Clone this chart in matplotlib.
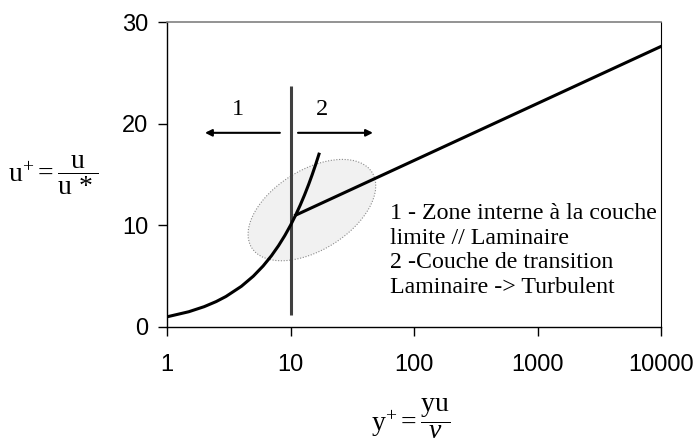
import matplotlib
matplotlib.use("Agg")
import matplotlib.pyplot as plt
import matplotlib.transforms as mtransforms
from matplotlib.patches import Ellipse

# ---- data ----
x_ticks = [1, 10, 100, 1000, 10000]
x_tick_labels = ["1", "10", "100", "1000", "10000"]
y_ticks = [0, 10, 20, 30]

# viscous sublayer  u+ = y+
lam_y = [1, 1.5, 2, 2.5, 3, 4, 5, 6, 7, 8, 9, 10, 11, 12, 13, 14, 15, 16, 17]
lam_u = [1, 1.5, 2, 2.5, 3, 4, 5, 6, 7, 8, 9, 10, 11, 12, 13, 14, 15, 16, 17]

# log law segment
log_y = [11, 10000]
log_u = [11, 27.6]

# separator
sep_x = [10, 10]
sep_u = [1.2, 23.7]

arrow_left = (8.2, 2.03, 19.1)    # x_start, x_end, y
arrow_right = (11.5, 46.5, 19.1)
zone_labels = ["1", "2"]
zone_label_x = [3.76, 18.0]
zone_label_y = 21.4

ellipse_center = (14.9, 11.5)

legend_text = ("1 - Zone interne à la couche\n"
               "limite // Laminaire\n"
               "2 -Couche de transition\n"
               "Laminaire -> Turbulent")

plt.rcParams['mathtext.fontset'] = 'custom'
plt.rcParams['mathtext.rm'] = 'Liberation Serif'
plt.rcParams['mathtext.it'] = 'Liberation Serif:italic'

fig = plt.figure(figsize=(6.97, 4.42), dpi=100)
ax = fig.add_axes([0.2396, 0.2602, 0.9484 - 0.2396, 0.9502 - 0.2602])

ax.set_xscale('log')
ax.set_xlim(1, 10000)
ax.set_ylim(0, 30)

# ellipse (pixel-sized, centred on a data point)
trans = fig.dpi_scale_trans + mtransforms.ScaledTranslation(
    ellipse_center[0], ellipse_center[1], ax.transData)
ell = Ellipse((0, 0), 1.42, 0.80, angle=32, transform=trans,
              facecolor='#f1f1f1', edgecolor='#8a8a8a', lw=0.8,
              linestyle=(0, (1, 1.5)), zorder=1)
ax.add_patch(ell)

ax.plot(sep_x, sep_u, color='#404040', lw=2.2, solid_capstyle='butt', zorder=2)
ax.plot(lam_y, lam_u, color='black', lw=2.2, zorder=3)
ax.plot(log_y, log_u, color='black', lw=2.2, zorder=3)

for (xs, xe, yy) in (arrow_left, arrow_right):
    ax.annotate('', xy=(xe, yy), xytext=(xs, yy),
                arrowprops=dict(arrowstyle='-|>', lw=1.5, color='black',
                                mutation_scale=10, shrinkA=0, shrinkB=0))

for lab, xx in zip(zone_labels, zone_label_x):
    ax.text(xx, zone_label_y, lab, ha='center', va='center',
            fontsize=17.5, family='Liberation Serif')

ax.text(0.451, 0.405, legend_text, transform=ax.transAxes, ha='left', va='top',
        fontsize=17.2, family='Liberation Serif', linespacing=1.21)

ax.set_xticks(x_ticks)
ax.set_xticklabels(x_tick_labels)
ax.xaxis.set_minor_locator(matplotlib.ticker.NullLocator())
ax.set_yticks(y_ticks)
ax.set_yticklabels([str(v) for v in y_ticks])

for lab in ax.get_xticklabels() + ax.get_yticklabels():
    lab.set_family('Liberation Sans')
    lab.set_fontsize(17)
ax.tick_params(axis='x', direction='out', length=6.5, width=1, pad=13, color='black')
ax.tick_params(axis='y', direction='out', length=6.5, width=1, pad=7, color='black')

ax.spines['left'].set_color('black')
ax.spines['left'].set_linewidth(1.0)
ax.spines['bottom'].set_color('black')
ax.spines['bottom'].set_linewidth(1.0)
ax.spines['top'].set_color('#808080')
ax.spines['top'].set_linewidth(1.2)
ax.spines['right'].set_color('black')
ax.spines['right'].set_linewidth(0.8)

fig.text(53 / 697, 1 - 175 / 442, r'$\mathrm{u}^{+}=\dfrac{\mathrm{u}}{\mathrm{u}\,*}$',
         ha='center', va='center', fontsize=20)
fig.text(411 / 697, 1 - 419 / 442, r'$\mathrm{y}^{+}=\dfrac{\mathrm{yu}}{\nu}$',
         ha='center', va='center', fontsize=20)

fig.savefig('out.png', dpi=100)
